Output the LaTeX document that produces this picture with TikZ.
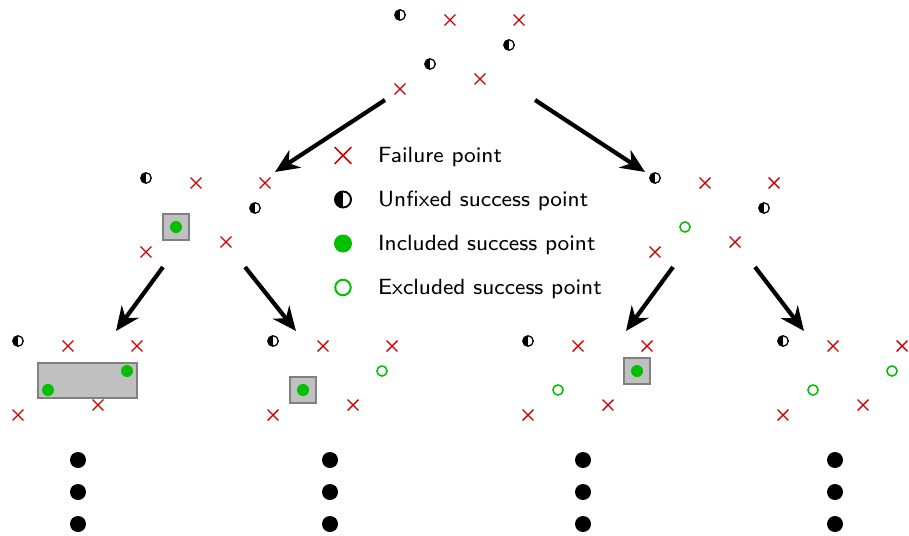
\documentclass[tikz,border=0pt]{standalone}
\usepackage{fontspec}
\newfontfamily\legfont{lmsans8-regular.otf}
\usetikzlibrary{shapes.misc,arrows.meta,fit,backgrounds}
\definecolor{xred}{RGB}{204,0,0}
\definecolor{xgreen}{RGB}{0,192,0}
\definecolor{boxfill}{RGB}{192,192,192}
\definecolor{boxgray}{RGB}{128,128,128}
\tikzset{
 fail/.style={cross out, draw=xred, line width=1.4pt, minimum size=9.5pt, inner sep=0pt},
 unfixed/.style={circle, draw=black, line width=1.3pt, minimum size=10.5pt, inner sep=0pt, fill=white,
   path picture={\fill[black] (path picture bounding box.south west) rectangle (path picture bounding box.north);}},
 incl/.style={circle, fill=xgreen, minimum size=12pt, inner sep=0pt},
 excl/.style={circle, draw=xgreen, line width=1.5pt, minimum size=10.2pt, inner sep=0pt},
 selbox/.style={draw=boxgray, fill=boxfill, line width=1.5pt},
 bigarrow/.style={line width=4.2pt, -{Stealth[length=24pt,width=21pt]}},
 vdot/.style={circle, fill=black, minimum size=16pt, inner sep=0pt},
 legtext/.style={anchor=base west, inner sep=0pt, font=\legfont\fontsize{22}{26}\selectfont}
}
\newcommand\ptgroup[4]{%
 \begin{scope}[shift={#2}]
 \node[unfixed] (#1-1) at (0,0) {};
 \node[fail] (#1-2) at (50,5) {};
 \node[fail] (#1-3) at (119,5) {};
 \node[#3] (#1-4) at (109,30) {};
 \node[#4] (#1-5) at (30,49) {};
 \node[fail] (#1-6) at (80,64) {};
 \node[fail] (#1-7) at (0,74) {};
 \end{scope}}
\begin{document}
\begin{tikzpicture}[x=1pt,y=-1pt]
\useasboundingbox (0,0) rectangle (909,535);
% groups
\ptgroup{t}{(400,15)}{unfixed}{unfixed}
\ptgroup{ml}{(146,178)}{unfixed}{incl}
\ptgroup{mr}{(655,178)}{unfixed}{excl}
\ptgroup{ba}{(18,341)}{incl}{incl}
\ptgroup{bb}{(273,341)}{excl}{incl}
\ptgroup{bc}{(528,341)}{incl}{excl}
\ptgroup{bd}{(783,341)}{excl}{excl}
% selection boxes
\begin{pgfonlayer}{background}
\node[selbox, fit=(ml-5), inner sep=7pt] (boxml) {};
\node[selbox, fit=(ba-4)(ba-5), inner xsep=4pt, inner ysep=2pt] (boxba) {};
\node[selbox, fit=(bb-5), inner sep=7pt] (boxbb) {};
\node[selbox, fit=(bc-4), inner sep=7pt] (boxbc) {};
\end{pgfonlayer}
% arrows
\coordinate (a1s) at (385,100); \coordinate (a1e) at (275,172);
\coordinate (a2s) at (535,100); \coordinate (a2e) at (645,172);
\coordinate (a3s) at (163,267); \coordinate (a3e) at (116,331);
\coordinate (a4s) at (245,267); \coordinate (a4e) at (296,331);
\coordinate (a5s) at (673,267); \coordinate (a5e) at (626,331);
\coordinate (a6s) at (755,267); \coordinate (a6e) at (804,331);
\foreach \i in {1,...,6} {\draw[bigarrow] (a\i s) -- (a\i e);}
% continuation dots
\foreach \x/\n in {78/a,330/b,583/c,835/d} {
 \node[vdot] (\n d1) at (\x,460) {};
 \node[vdot] (\n d2) at (\x,492) {};
 \node[vdot] (\n d3) at (\x,524) {};
}
% legend
\node[fail, minimum size=15pt, line width=1.6pt] (lg1) at (343,155.5) {};
\node[unfixed, minimum size=16pt, line width=1.9pt] (lg2) at (343,199.5) {};
\node[incl, minimum size=18pt] (lg3) at (343,243.5) {};
\node[excl, minimum size=15.5pt, line width=2pt] (lg4) at (343,287.5) {};
\node[legtext] (lt1) at (378,162) {Failure point};
\node[legtext] (lt2) at (378,206.5) {Unfixed success point};
\node[legtext] (lt3) at (378,250.5) {Included success point};
\node[legtext] (lt4) at (378,294.5) {Excluded success point};
\end{tikzpicture}
\end{document}
